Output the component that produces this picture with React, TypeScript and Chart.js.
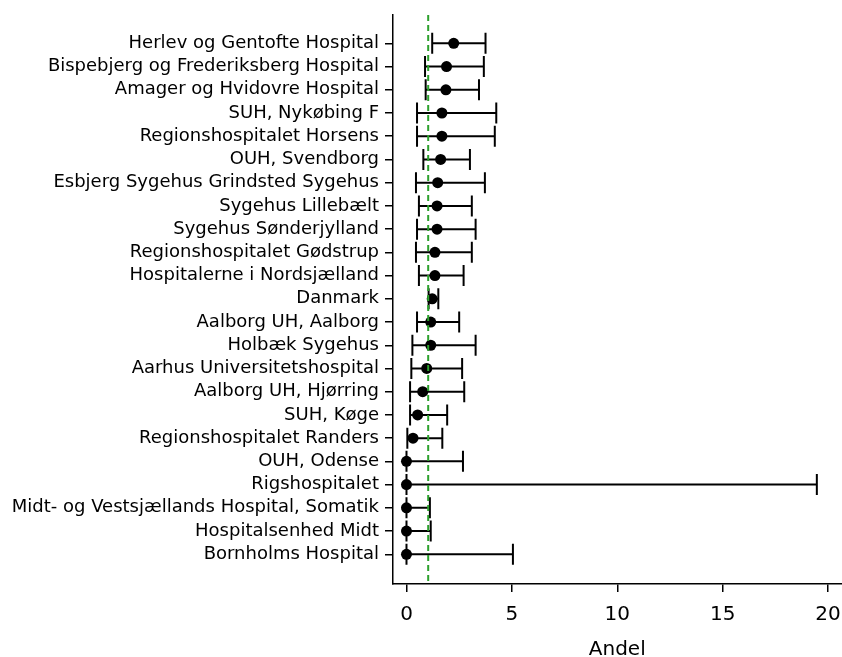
import React, { useEffect, useRef } from 'react';
import { Chart, registerables } from 'chart.js';

Chart.register(...registerables);

const hospitals: string[] = [
  'Herlev og Gentofte Hospital',
  'Bispebjerg og Frederiksberg Hospital',
  'Amager og Hvidovre Hospital',
  'SUH, Nykøbing F',
  'Regionshospitalet Horsens',
  'OUH, Svendborg',
  'Esbjerg Sygehus Grindsted Sygehus',
  'Sygehus Lillebælt',
  'Sygehus Sønderjylland',
  'Regionshospitalet Gødstrup',
  'Hospitalerne i Nordsjælland',
  'Danmark',
  'Aalborg UH, Aalborg',
  'Holbæk Sygehus',
  'Aarhus Universitetshospital',
  'Aalborg UH, Hjørring',
  'SUH, Køge',
  'Regionshospitalet Randers',
  'OUH, Odense',
  'Rigshospitalet',
  'Midt- og Vestsjællands Hospital, Somatik',
  'Hospitalsenhed Midt',
  'Bornholms Hospital',
];

const estimates: number[] = [2.24, 1.9, 1.87, 1.68, 1.68, 1.62, 1.48, 1.45, 1.45, 1.35, 1.35, 1.22, 1.15, 1.15, 0.96, 0.77, 0.53, 0.31, 0, 0, 0, 0, 0];
const lowerCI: number[] = [1.22, 0.88, 0.91, 0.5, 0.5, 0.8, 0.45, 0.59, 0.5, 0.45, 0.59, 1.05, 0.5, 0.28, 0.23, 0.17, 0.17, 0.04, 0, 0, 0, 0, 0];
const upperCI: number[] = [3.75, 3.67, 3.44, 4.26, 4.19, 3.01, 3.72, 3.1, 3.28, 3.1, 2.71, 1.51, 2.5, 3.28, 2.64, 2.74, 1.93, 1.7, 2.68, 19.47, 1.11, 1.15, 5.05];
const referenceValue = 1.03;
const xTickValues: number[] = [0, 5, 10, 15, 20];
const xAxisTitle = 'Andel';

const FONT = 'DejaVu Sans';
const CANVAS_W = 854;
const CANVAS_H = 657;

export default function App() {
  const canvasRef = useRef<HTMLCanvasElement>(null);

  useEffect(() => {
    if (!canvasRef.current) return;
    const yMin = -1.22;
    const yMax = 23.28;

    const errorBars: any[] = hospitals.map((_, i) => ({
      type: 'scatter',
      data: [
        { x: lowerCI[i], y: i },
        { x: upperCI[i], y: i },
      ],
      showLine: true,
      borderColor: '#000',
      borderWidth: 2,
      pointStyle: 'line',
      rotation: 90,
      pointRadius: 10.5,
      pointHoverRadius: 10.5,
      pointBorderWidth: 2,
      pointBorderColor: '#000',
      order: 2,
    }));

    const points: any = {
      type: 'scatter',
      data: estimates.map((v, i) => ({ x: v, y: i })),
      pointRadius: 5.5,
      pointHoverRadius: 5.5,
      pointBackgroundColor: '#000',
      pointBorderColor: '#000',
      pointBorderWidth: 0,
      order: 1,
    };

    const refLine: any = {
      type: 'scatter',
      data: [
        { x: referenceValue, y: yMin },
        { x: referenceValue, y: yMax },
      ],
      showLine: true,
      borderColor: '#2ca02c',
      borderWidth: 2,
      borderDash: [6, 4],
      pointRadius: 0,
      order: 0,
    };

    const chart = new Chart(canvasRef.current, {
      type: 'scatter',
      data: { datasets: [refLine, points, ...errorBars] },
      options: {
        animation: false,
        responsive: false,
        devicePixelRatio: 1,
        layout: { padding: { top: 15, left: 0, right: 0, bottom: 0 } },
        plugins: { legend: { display: false }, tooltip: { enabled: false } },
        scales: {
          x: {
            type: 'linear',
            min: -0.64,
            max: 20.64,
            afterBuildTicks: (s: any) => {
              s.ticks = xTickValues.map((v) => ({ value: v }));
            },
            afterFit: (s: any) => {
              s.height = 73;
              s.paddingLeft = 0;
              s.paddingRight = 0;
            },
            ticks: {
              font: { family: FONT, size: 20 },
              color: '#000',
              padding: 11,
              maxRotation: 0,
              autoSkip: false,
            },
            grid: { drawOnChartArea: false, drawTicks: true, tickLength: 8, color: '#000', lineWidth: 1.5 },
            border: { display: true, color: '#000', width: 1.5 },
            title: {
              display: true,
              text: xAxisTitle,
              font: { family: FONT, size: 20, lineHeight: 0.7 },
              color: '#000',
              padding: { top: 0, bottom: 0 },
            },
          },
          y: {
            type: 'linear',
            reverse: true,
            min: yMin,
            max: yMax,
            afterBuildTicks: (s: any) => {
              s.ticks = hospitals.map((_, i) => ({ value: i }));
            },
            afterFit: (s: any) => {
              s.width = 393;
              s.paddingTop = 0;
              s.paddingBottom = 0;
            },
            ticks: {
              font: { family: FONT, size: 18 },
              color: '#000',
              padding: 6,
              autoSkip: false,
              callback: (v: any) => hospitals[v as number] ?? '',
            },
            grid: { drawOnChartArea: false, drawTicks: true, tickLength: 8, color: '#000', lineWidth: 1.5 },
            border: { display: true, color: '#000', width: 1.5 },
          },
        },
      } as any,
    });
    return () => chart.destroy();
  }, []);

  return (
    <div style={{ position: 'fixed', left: 0, top: 0, width: 842, height: 657, overflow: 'hidden', background: '#fff' }}>
      <canvas ref={canvasRef} width={CANVAS_W} height={CANVAS_H} style={{ display: 'block' }} />
    </div>
  );
}
